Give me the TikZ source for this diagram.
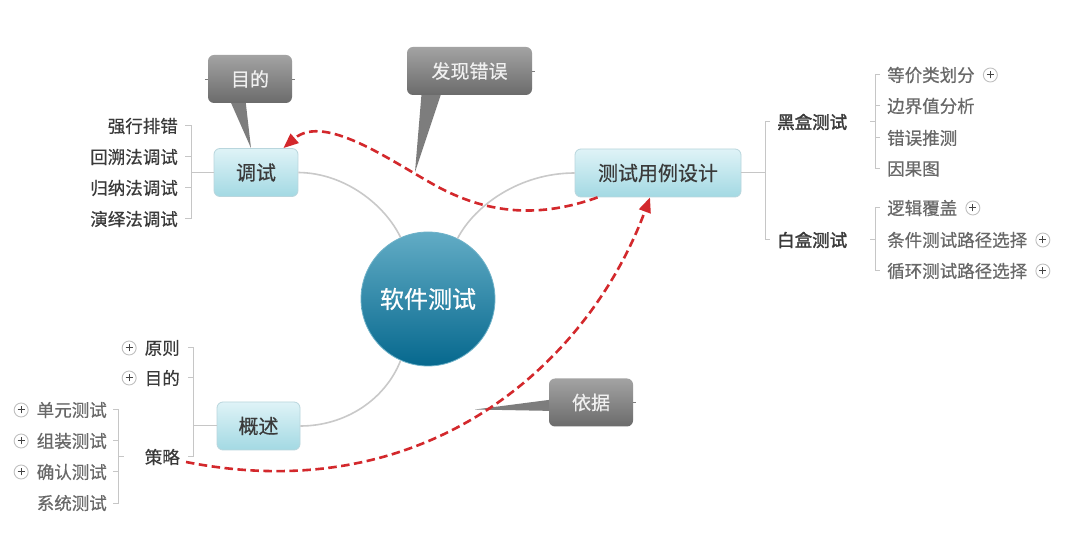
\documentclass[tikz,border=0pt]{standalone}
\usepackage{fontspec}
\setmainfont{Noto Sans CJK SC}[FakeBold=0.5]
\newfontfamily\cjkbold{Noto Sans CJK SC}[FakeBold=1.8]
\usetikzlibrary{arrows.meta,positioning,shapes.geometric}
\definecolor{boxT}{HTML}{DFF3F7}
\definecolor{boxB}{HTML}{A3D9E3}
\definecolor{boxD}{HTML}{B9D6DD}
\definecolor{rootT}{HTML}{62ACC5}
\definecolor{rootM}{HTML}{147BA0}
\definecolor{rootB}{HTML}{06688E}
\definecolor{rootD}{HTML}{6FB2C9}
\definecolor{calT}{HTML}{A3A3A3}
\definecolor{calB}{HTML}{6B6B6B}
\definecolor{calP}{HTML}{7D7D7D}
\definecolor{calText}{HTML}{F0F0F0}
\definecolor{itemc}{HTML}{3A3A3A}
\definecolor{subc}{HTML}{686868}
\definecolor{brkc}{HTML}{C6C6C6}
\definecolor{branchc}{HTML}{C9C9C9}
\definecolor{redc}{HTML}{D3282C}
\definecolor{plusb}{HTML}{C0C0C0}
\definecolor{plusf}{HTML}{444444}
\begin{document}
\begin{tikzpicture}[x=1pt,y=-1pt,
  topicbox/.style={rounded corners=6pt, top color=boxT, bottom color=boxB, draw=boxD, line width=0.8pt,
    minimum width=#1, minimum height=48pt, inner sep=0pt, text=itemc, font=\fontsize{20}{24}\selectfont},
  callout/.style={rounded corners=6pt, top color=calT, bottom color=calB, draw=none,
    minimum width=#1, minimum height=48pt, inner sep=0pt, text=calText, font=\fontsize{19}{22}\selectfont},
  item/.style={inner sep=2pt, text=itemc, font=\fontsize{17.5}{20}\selectfont},
  subitem/.style={inner sep=2pt, text=subc, font=\fontsize{17.5}{20}\selectfont},
  bolditem/.style={inner sep=2pt, text=itemc, font=\cjkbold\fontsize{17.5}{20}\selectfont},
  brk/.style={draw=brkc, line width=1pt},
  branch/.style={draw=branchc, line width=1.6pt},
  redarrow/.style={draw=redc, line width=2.6pt, dash pattern=on 8.5pt off 4.5pt,
    -{Triangle[length=15pt,width=12pt]}},
  plusc/.style={circle, draw=plusb, fill=white, line width=0.9pt, minimum size=14pt, inner sep=0pt,
    path picture={\draw[line width=1pt, plusf]
      ([xshift=-3.5pt]path picture bounding box.center) -- ([xshift=3.5pt]path picture bounding box.center)
      ([yshift=-3.5pt]path picture bounding box.center) -- ([yshift=3.5pt]path picture bounding box.center);}},
  stub/.style={draw=calP, line width=0.8pt}
]
\useasboundingbox (0,0) rectangle (1080,537);
\fill[white] (0,0) rectangle (1080,537);

% central topic
\node[circle, minimum size=134pt, inner sep=0pt, top color=rootT, middle color=rootM, bottom color=rootB,
  draw=rootD, line width=0.8pt, text=white, font=\fontsize{24}{28}\selectfont] (root) at (428,299) {软件测试};

% main topics
\node[topicbox=84pt] (debug) at (256,172.5) {调试};
\node[topicbox=166pt] (design) at (658,173) {测试用例设计};
\node[topicbox=83pt] (overview) at (258.5,426) {概述};

% branches from root
\draw[branch] (root.114) .. controls (385,205) and (345,173) .. (debug.east);
\draw[branch] (root.64) .. controls (475,205) and (520,173) .. (design.west);
\draw[branch] (root.246) .. controls (385,400) and (345,426) .. (overview.east);

% ---- debug branch
\node[item, anchor=east] (d1) at (180,126) {强行排错};
\node[item, anchor=east] (d2) at (180,157) {回溯法调试};
\node[item, anchor=east] (d3) at (180,188) {归纳法调试};
\node[item, anchor=east] (d4) at (180,219) {演绎法调试};
\coordinate (dbx) at (191,172.5);
\draw[brk] (debug.west) -- (dbx);
\draw[brk] ([xshift=5pt]d1.east) -- (d1.east -| dbx) -- (d4.east -| dbx) -- ([xshift=5pt]d4.east);
\draw[brk] ([xshift=5pt]d2.east) -- (d2.east -| dbx);
\draw[brk] ([xshift=5pt]d3.east) -- (d3.east -| dbx);

% ---- design branch
\node[bolditem, anchor=west] (bk) at (775,122) {黑盒测试};
\node[bolditem, anchor=west] (wh) at (775,240) {白盒测试};
\coordinate (ebx) at (765,173);
\draw[brk] (design.east) -- (ebx);
\draw[brk] ([xshift=5pt]bk.west -| ebx) -- (bk.west -| ebx) -- (wh.west -| ebx) -- ([xshift=5pt]wh.west -| ebx);

\node[subitem, anchor=west] (b1) at (885,75) {等价类划分};
\node[subitem, anchor=west] (b2) at (885,106) {边界值分析};
\node[subitem, anchor=west] (b3) at (885,138) {错误推测};
\node[subitem, anchor=west] (b4) at (885,169) {因果图};
\coordinate (bbx) at (875,122);
\draw[brk] ([xshift=-5pt]bbx) -- (bbx);
\draw[brk] ([xshift=-5pt]b1.west) -- (b1.west -| bbx) -- (b4.west -| bbx) -- ([xshift=-5pt]b4.west);
\draw[brk] ([xshift=-5pt]b2.west) -- (b2.west -| bbx);
\draw[brk] ([xshift=-5pt]b3.west) -- (b3.west -| bbx);
\node[plusc, right=6pt of b1] (pb1) {};

\node[subitem, anchor=west] (w1) at (885,208) {逻辑覆盖};
\node[subitem, anchor=west] (w2) at (885,240) {条件测试路径选择};
\node[subitem, anchor=west] (w3) at (885,271) {循环测试路径选择};
\coordinate (wbx) at (875,240);
\draw[brk] ([xshift=-5pt]wbx) -- (wbx);
\draw[brk] ([xshift=-5pt]w1.west) -- (w1.west -| wbx) -- (w3.west -| wbx) -- ([xshift=-5pt]w3.west);
\node[plusc, right=6pt of w1] (pw1) {};
\node[plusc, right=6pt of w2] (pw2) {};
\node[plusc, right=6pt of w3] (pw3) {};

% ---- overview branch
\node[item, anchor=east] (o1) at (182,348) {原则};
\node[item, anchor=east] (o2) at (182,378) {目的};
\node[item, anchor=east] (o3) at (182,457) {策略};
\coordinate (obx) at (193,426);
\draw[brk] (overview.west) -- (obx);
\draw[brk] ([xshift=6pt]o1.east) -- (o1.east -| obx) -- (o3.east -| obx) -- ([xshift=6pt]o3.east);
\draw[brk] ([xshift=6pt]o2.east) -- (o2.east -| obx);
\node[plusc, left=6pt of o1] (po1) {};
\node[plusc, left=6pt of o2] (po2) {};

\node[subitem, anchor=east] (s1) at (109,410) {单元测试};
\node[subitem, anchor=east] (s2) at (109,441) {组装测试};
\node[subitem, anchor=east] (s3) at (109,472) {确认测试};
\node[subitem, anchor=east] (s4) at (109,503) {系统测试};
\coordinate (sbx) at (118,457);
\draw[brk] (sbx) -- ([xshift=6pt]sbx);
\draw[brk] ([xshift=4pt]s1.east) -- (s1.east -| sbx) -- (s4.east -| sbx) -- ([xshift=4pt]s4.east);
\draw[brk] ([xshift=4pt]s2.east) -- (s2.east -| sbx);
\draw[brk] ([xshift=4pt]s3.east) -- (s3.east -| sbx);
\node[plusc, left=6pt of s1] (ps1) {};
\node[plusc, left=6pt of s2] (ps2) {};
\node[plusc, left=6pt of s3] (ps3) {};

% ---- callouts
\fill[calP] (228,96) -- (245,96) -- ([xshift=-5pt]debug.north) -- cycle;
\node[callout=84pt] (c1) at (250,79) {目的};
\draw[stub] ([xshift=-3pt]c1.west) -- (c1.west);
\draw[stub] (c1.east) -- ([xshift=3pt]c1.east);

\coordinate (c2tip) at (415,172);
\fill[calP] (422,88) -- (443,88) -- (c2tip) -- cycle;
\node[callout=125pt] (c2) at (469.5,71) {发现错误};
\draw[stub] (c2.east) -- ([xshift=3pt]c2.east);

\coordinate (c3tip) at (475,409.5);
\fill[calP] (556,399) -- (556,411) -- (c3tip) -- cycle;
\node[callout=84pt] (c3) at (591,402.5) {依据};
\draw[stub] (c3.east) -- ([xshift=3pt]c3.east);

% ---- red dashed relationships
\draw[redarrow] ([xshift=23pt]design.south west) .. controls (540,218) and (490,214) .. (440,188)
   .. controls (395,164) and (325,112) .. ([xshift=-15pt]debug.north east);
\draw[redarrow] ([xshift=4pt,yshift=-5pt]o3.east) .. controls (430,510) and (590,360) .. ([xshift=-8pt]design.south);
\end{tikzpicture}
\end{document}
